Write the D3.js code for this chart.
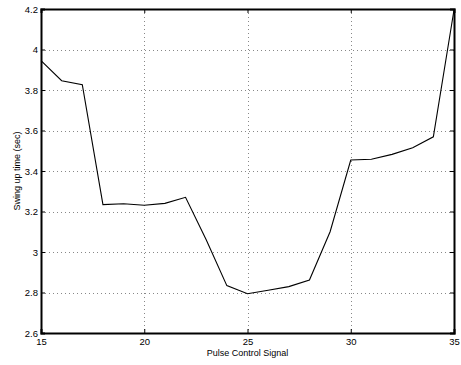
<!DOCTYPE html>
<html>
<head>
<meta charset="utf-8">
<script src="https://cdn.jsdelivr.net/npm/d3@7"></script>
<style>
  body { margin: 0; background: #fff; }
  text { font-family: "Liberation Sans", Arial, sans-serif; }
</style>
</head>
<body>
<div id="chart"></div>
<script>
// data
var pulse = [15, 16, 17, 18, 19, 20, 21, 22, 23, 24, 25, 26, 27, 28, 29, 30, 31, 32, 33, 34, 35];
var swingTime = [3.945, 3.846, 3.826, 3.234, 3.238, 3.231, 3.240, 3.270, 3.06, 2.834, 2.794,
  2.811, 2.829, 2.862, 3.10, 3.454, 3.458, 3.482, 3.515, 3.569, 4.195];
var xTicks = [15, 20, 25, 30, 35];
var yTicks = [2.6, 2.8, 3, 3.2, 3.4, 3.6, 3.8, 4, 4.2];

var width = 461, height = 365;
// plot box (note: "top" is reserved on window, so use plot* names)
var plotLeft = 41, plotRight = 454, plotTop = 9, plotBottom = 333;

var x = d3.scaleLinear().domain([15, 35]).range([plotLeft, plotRight]);
var y = d3.scaleLinear().domain([2.6, 4.2]).range([plotBottom, plotTop]);

var svg = d3.select("#chart").append("svg")
  .attr("width", width)
  .attr("height", height);

/* grid */
var grid = svg.append("g").attr("stroke", "#888").attr("stroke-width", 1)
  .attr("stroke-dasharray", "1,3");
grid.selectAll(".gx").data(xTicks.slice(1, -1)).enter().append("line")
  .attr("x1", d => Math.round(x(d)) + 0.5).attr("x2", d => Math.round(x(d)) + 0.5)
  .attr("y1", plotTop).attr("y2", plotBottom);
grid.selectAll(".gy").data(yTicks.slice(1, -1)).enter().append("line")
  .attr("y1", d => Math.round(y(d)) + 0.5).attr("y2", d => Math.round(y(d)) + 0.5)
  .attr("x1", plotLeft).attr("x2", plotRight);

/* line */
var line = d3.line()
  .x((d, i) => x(pulse[i]))
  .y(d => y(d));

svg.append("path")
  .datum(swingTime)
  .attr("fill", "none")
  .attr("stroke", "#000")
  .attr("stroke-width", 1.1)
  .attr("d", line);

/* axes, matlab style: ticks inward on all sides */
var xAxis = d3.axisBottom(x).tickValues(xTicks).tickSize(-4).tickPadding(5)
  .tickFormat(d3.format("d"));
var yAxis = d3.axisLeft(y).tickValues(yTicks).tickSize(-4).tickPadding(3)
  .tickFormat(d => String(d));

var gx = svg.append("g").attr("transform", `translate(0,${plotBottom})`).call(xAxis);
var gy = svg.append("g").attr("transform", `translate(${plotLeft},0)`).call(yAxis);
var gxTop = svg.append("g").attr("transform", `translate(0,${plotTop})`)
  .call(d3.axisTop(x).tickValues(xTicks).tickSize(-4).tickFormat(""));
var gyRight = svg.append("g").attr("transform", `translate(${plotRight},0)`)
  .call(d3.axisRight(y).tickValues(yTicks).tickSize(-4).tickFormat(""));

[gx, gy, gxTop, gyRight].forEach(function (g) {
  g.select(".domain").attr("stroke", "#000").attr("stroke-width", 2);
  g.selectAll(".tick line").attr("stroke", "#000").attr("stroke-width", 1);
  g.selectAll("text").attr("fill", "#000").style("font-size", "9.5px")
    .style("font-family", "'Liberation Sans', Arial, sans-serif");
});

svg.append("text")
  .attr("x", (plotLeft + plotRight) / 2)
  .attr("y", 356)
  .attr("text-anchor", "middle")
  .style("font-size", "9px")
  .text("Pulse Control Signal");

svg.append("text")
  .attr("transform", `translate(20,${(plotTop + plotBottom) / 2}) rotate(-90)`)
  .attr("text-anchor", "middle")
  .style("font-size", "9px")
  .text("Swing up time (sec)");
</script>
</body>
</html>
